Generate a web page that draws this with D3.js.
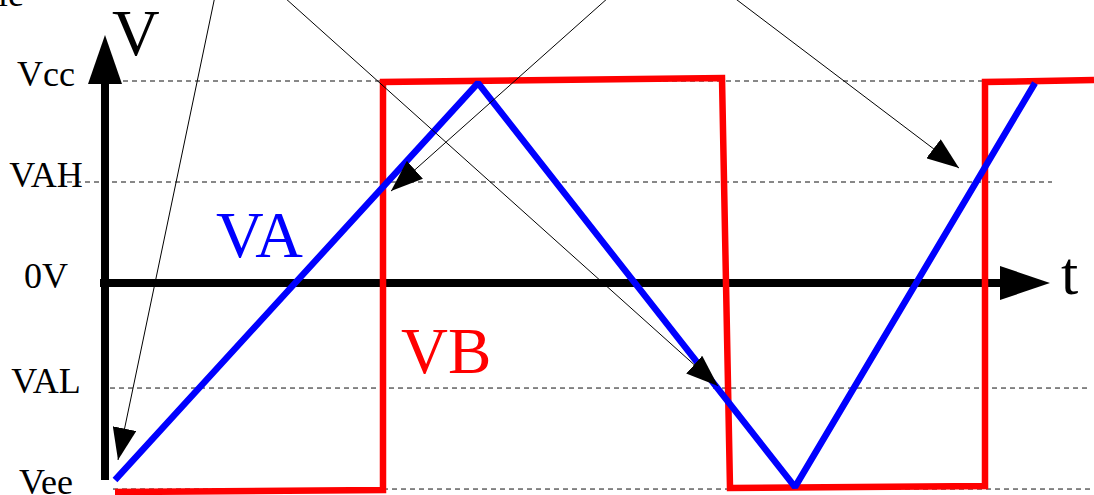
<!DOCTYPE html>
<html>
<head>
<meta charset="utf-8">
<script src="https://cdn.jsdelivr.net/npm/d3@7"></script>
<style>
  html, body { margin: 0; padding: 0; background: #fff; }
  svg { display: block; }
  text { font-family: "Liberation Serif", "DejaVu Serif", serif; }
</style>
</head>
<body>
<div id="chart"></div>
<script>
// voltage levels (level labels on the left, dashed guide lines)
const levelLabels = ["Vcc", "VAH", "0V", "VAL", "Vee"];
const levelValues = [1.0, 0.5, 0, -0.52, -1.02];
// where each dashed guide starts / ends, in time units (0V has the axis instead)
const guideFrom = [2.3, -3.3, null, 1.0, 1.3];
const guideTo = [88.3, 95.2, null, 98.7, 100];

// VA: triangle wave
const vaTimes = [1.5, 37.8, 69.5, 93.5];
const vaValues = [-0.975, 0.99, -1.01, 0.99];

// VB: square wave
const vbTimes = [1.5, 28.3, 28.3, 62.2, 63.0, 88.5, 88.5, 99.4];
const vbValues = [-1.035, -1.025, 0.995, 1.015, -1.015, -1.005, 0.995, 1.005];

// thin annotation arrows [t0, v0, t1, v1]
const noteArrows = [
    [11.5, 1.42, 1.8, -0.876],
    [18.3, 1.42, 61.8, -0.51],
    [51.0, 1.42, 29.1, 0.455],
    [63.2, 1.42, 85.9, 0.569]
];

let width = 1094, height = 495;

let svg = d3.select("#chart").append("svg")
    .attr("width", width)
    .attr("height", height);

let x = d3.scaleLinear().domain([0, 100]).range([100, 1100]);
let y = d3.scaleLinear().domain([-1, 1]).range([485, 81]);

let defs = svg.append("defs");
defs.append("marker")
    .attr("id", "noteHead")
    .attr("markerUnits", "userSpaceOnUse")
    .attr("viewBox", "0 0 32 24")
    .attr("refX", 32)
    .attr("refY", 12)
    .attr("markerWidth", 32)
    .attr("markerHeight", 24)
    .attr("orient", "auto")
    .append("path")
    .attr("d", "M0,0 L32,12 L0,24 Z")
    .attr("fill", "black");

// dashed guides
let levels = levelLabels.map(function(d, i){
    return {label: d, v: levelValues[i], from: guideFrom[i], to: guideTo[i]};
});

svg.append("g").selectAll("line")
    .data(levels.filter(d => d.from != null))
    .enter().append("line")
    .attr("x1", d => x(d.from))
    .attr("x2", d => x(d.to))
    .attr("y1", d => y(d.v))
    .attr("y2", d => y(d.v))
    .attr("stroke", "#111")
    .attr("stroke-width", 1)
    .attr("stroke-dasharray", "5,4");

// level labels
svg.append("g").selectAll("text")
    .data(levels)
    .enter().append("text")
    .attr("x", 46)
    .attr("y", d => y(d.v) + 5)
    .attr("text-anchor", "middle")
    .attr("font-size", 36)
    .attr("fill", "black")
    .text(d => d.label);

// axes: vertical
let axisX = x(0.5);
svg.append("line")
    .attr("x1", axisX).attr("x2", axisX)
    .attr("y1", y(-0.975)).attr("y2", 80)
    .attr("stroke", "black").attr("stroke-width", 8);
svg.append("path")
    .attr("d", "M" + (axisX - 17) + "," + 84 + " L" + axisX + "," + 35 + " L" + (axisX + 17) + "," + 84 + " Z")
    .attr("fill", "black");

// axes: horizontal
let axisY = y(0);
svg.append("line")
    .attr("x1", x(0)).attr("x2", x(90.5))
    .attr("y1", axisY).attr("y2", axisY)
    .attr("stroke", "black").attr("stroke-width", 8);
svg.append("path")
    .attr("d", "M" + x(90) + "," + (axisY - 17) + " L" + x(95) + "," + axisY + " L" + x(90) + "," + (axisY + 17) + " Z")
    .attr("fill", "black");

svg.append("text")
    .attr("x", 112).attr("y", 55)
    .attr("font-size", 66)
    .text("V");
svg.append("text")
    .attr("x", 1061).attr("y", 294)
    .attr("font-size", 62)
    .text("t");
svg.append("text")
    .attr("x", -2).attr("y", 6)
    .attr("font-size", 36)
    .text("le");

let line = d3.line()
    .x(d => x(d[0]))
    .y(d => y(d[1]));

// VB square wave
svg.append("path")
    .datum(vbTimes.map((t, i) => [t, vbValues[i]]))
    .attr("d", line)
    .attr("fill", "none")
    .attr("stroke", "#ff0000")
    .attr("stroke-width", 6.5)
    .attr("stroke-linejoin", "miter");

// VA triangle wave
svg.append("path")
    .datum(vaTimes.map((t, i) => [t, vaValues[i]]))
    .attr("d", line)
    .attr("fill", "none")
    .attr("stroke", "#0000ff")
    .attr("stroke-width", 6.5)
    .attr("stroke-linejoin", "bevel");

// annotation arrows
svg.append("g").selectAll("line")
    .data(noteArrows)
    .enter().append("line")
    .attr("x1", d => x(d[0]))
    .attr("y1", d => y(d[1]))
    .attr("x2", d => x(d[2]))
    .attr("y2", d => y(d[3]))
    .attr("stroke", "black")
    .attr("stroke-width", 1)
    .attr("marker-end", "url(#noteHead)");

// series labels
svg.append("text")
    .attr("x", 216).attr("y", 257)
    .attr("font-size", 66)
    .attr("fill", "#0000ff")
    .text("VA");
svg.append("text")
    .attr("x", 401).attr("y", 373)
    .attr("font-size", 65)
    .attr("fill", "#ff0000")
    .text("VB");
</script>
</body>
</html>
